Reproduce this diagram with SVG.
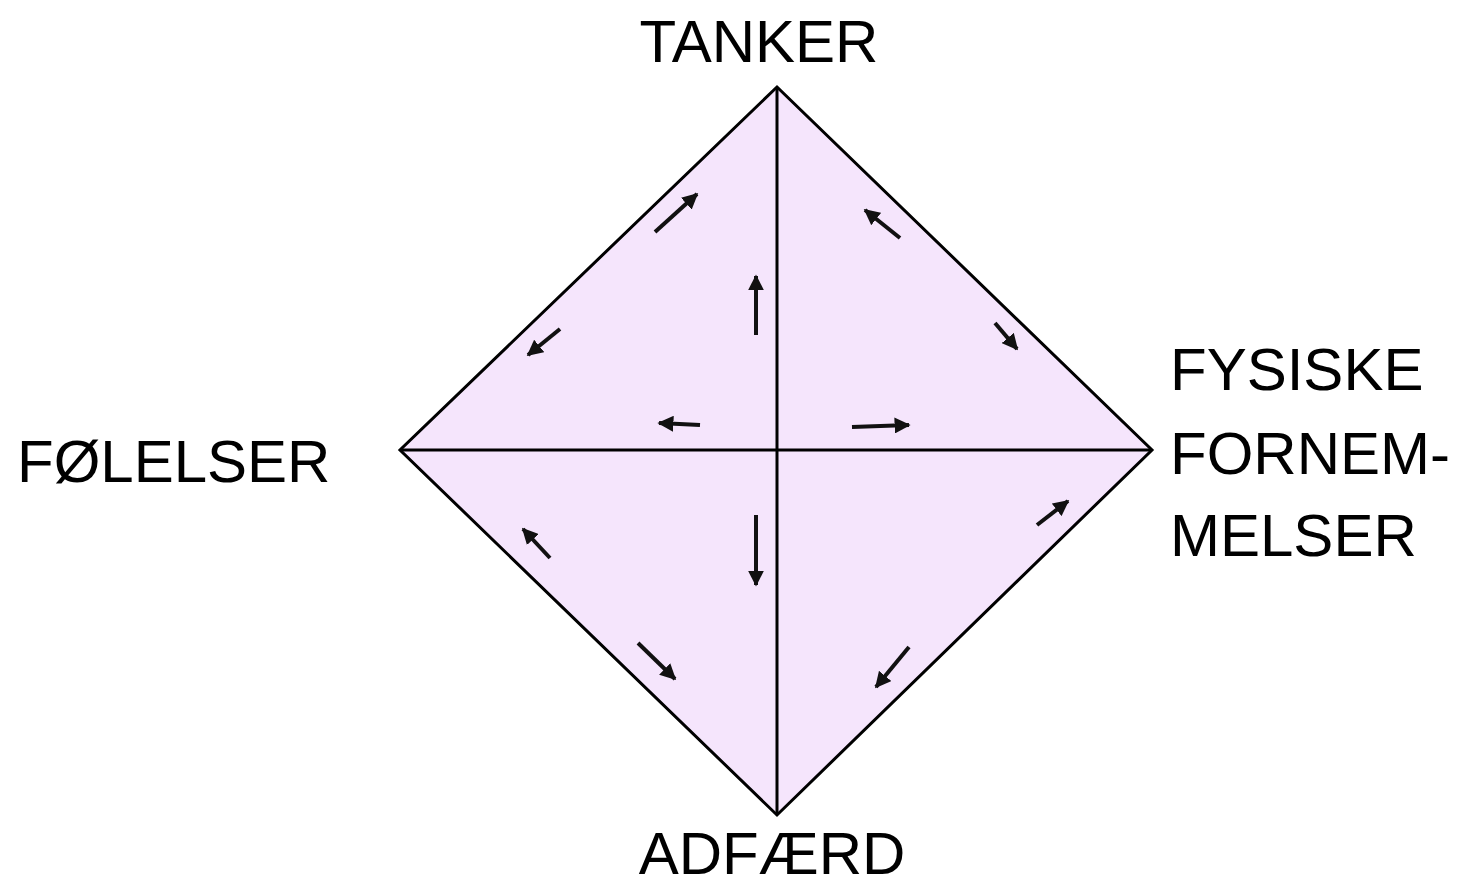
<svg xmlns="http://www.w3.org/2000/svg" width="1457" height="887" viewBox="0 0 1457 887">
<style>
.lbl{font-family:"Liberation Sans",Arial,sans-serif;font-size:60px;fill:#000}
.edge{stroke:#000;stroke-width:3;fill:none}
.arr{stroke:#111;stroke-width:4;fill:none;marker-end:url(#ah)}
</style>
<defs>
<marker id="ah" viewBox="0 0 10 10" refX="9" refY="5" markerWidth="4" markerHeight="4" markerUnits="strokeWidth" orient="auto">
<path d="M0,0 L10,5 L0,10 z" fill="#111"/>
</marker>
</defs>
<rect width="1457" height="887" fill="#fff"/>
<g id="diamond">
<polygon points="777,87 1152,450 777,815 400,450" fill="#f5e5fc" stroke="#000" stroke-width="3"/>
</g>
<g id="connectors">
<line class="edge" x1="777" y1="87" x2="777" y2="815"/>
<line class="edge" x1="400" y1="450" x2="1152" y2="450"/>
<line class="arr" x1="655" y1="232" x2="697" y2="194"/>
<line class="arr" x1="756" y1="335" x2="756" y2="276"/>
<line class="arr" x1="900" y1="238" x2="865" y2="210"/>
<line class="arr" x1="995" y1="323" x2="1017" y2="349"/>
<line class="arr" x1="560" y1="329" x2="528" y2="355"/>
<line class="arr" x1="700" y1="425" x2="659" y2="423"/>
<line class="arr" x1="852" y1="427" x2="909" y2="425"/>
<line class="arr" x1="550" y1="558" x2="523" y2="529"/>
<line class="arr" x1="638" y1="643" x2="675" y2="679"/>
<line class="arr" x1="1037" y1="525" x2="1068" y2="501"/>
<line class="arr" x1="909" y1="647" x2="876" y2="687"/>
<line class="arr" x1="756" y1="515" x2="756" y2="585"/>
</g>
<g id="tanker"><text class="lbl" x="759" y="62" text-anchor="middle">TANKER</text></g>
<g id="folelser"><text class="lbl" x="17" y="482">FØLELSER</text></g>
<g id="fysiske"><text class="lbl" x="1170" y="390">FYSISKE</text><text class="lbl" x="1170" y="474">FORNEM-</text><text class="lbl" x="1170" y="556">MELSER</text></g>
<g id="adfaerd"><text class="lbl" x="772" y="874" text-anchor="middle">ADFÆRD</text></g>
</svg>
